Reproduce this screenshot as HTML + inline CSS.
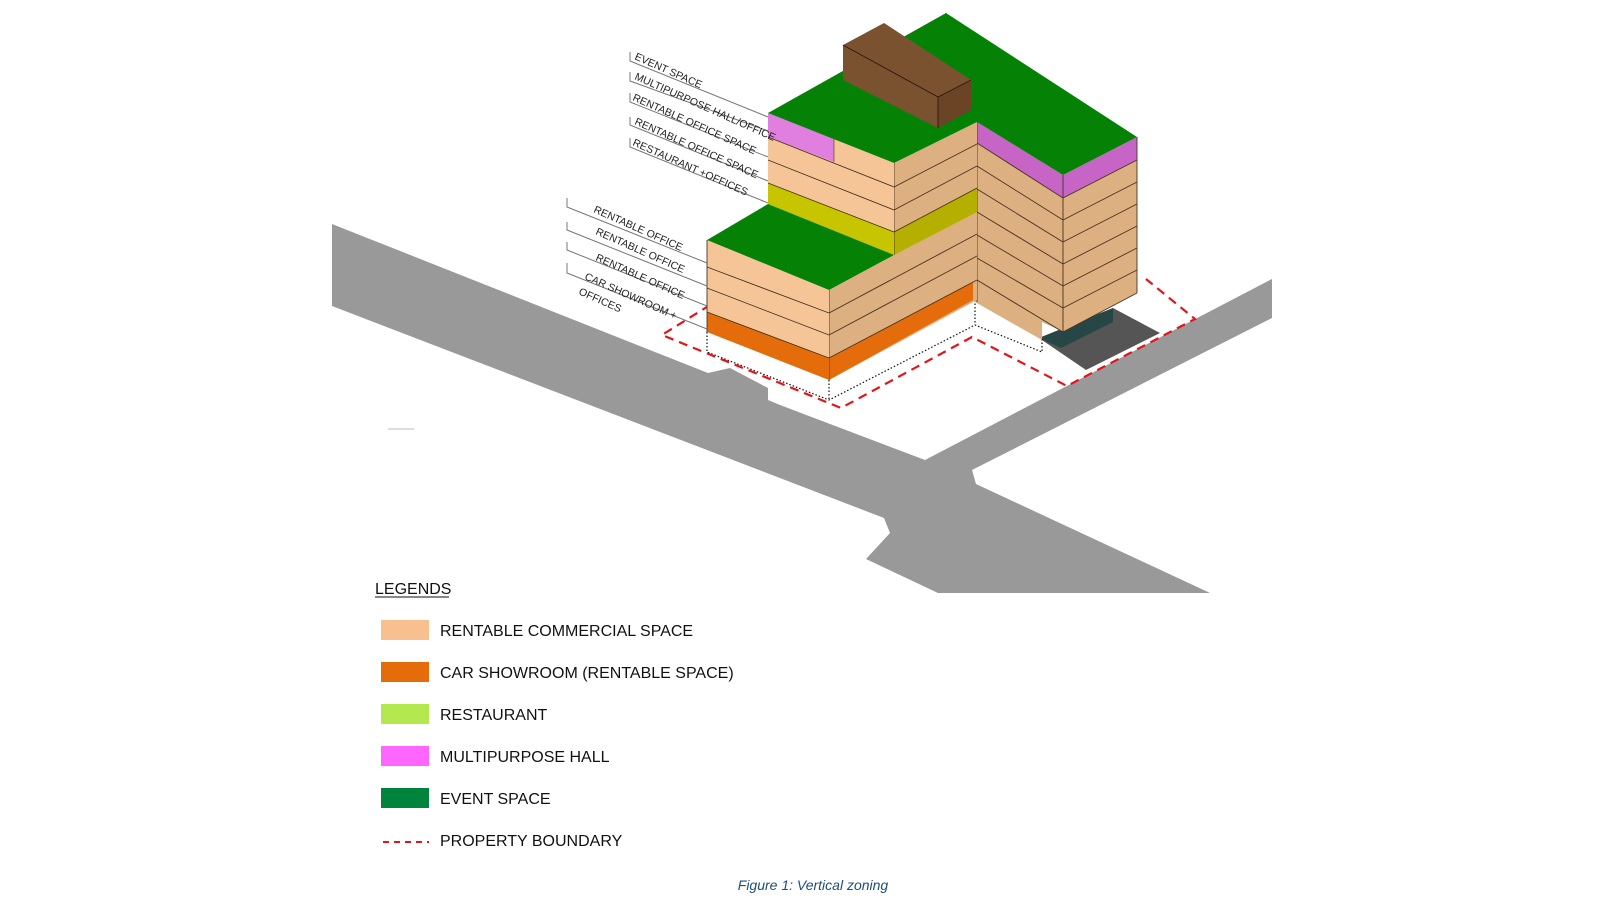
<!DOCTYPE html>
<html><head><meta charset="utf-8"><style>
html,body{margin:0;padding:0;background:#fff;}
svg{display:block}
text{font-family:"Liberation Sans",sans-serif;}
</style></head><body>
<svg width="1600" height="900" viewBox="0 0 1600 900" xmlns="http://www.w3.org/2000/svg">
<polygon fill="#999999" points="332,224 708,373 730,368 768,388 768,400 780,405 925,460 1272,279 1272,318 972,470 976,484 1210,593 938,593 866,559 890,533 884,518 332,306"/>
<line x1="388" y1="429" x2="414" y2="429" stroke="#bbb" stroke-width="1"/>
<polygon fill="#555" points="1039,338 1113,308 1160,333 1086,370"/>
<polygon fill="#274646" points="1039,338 1113,308 1113,322 1061,348"/>
<polyline fill="none" stroke="#111" stroke-width="1.2" stroke-dasharray="1.5,2" points="707,332 707,352 829,400 975,325 1042,352 1042,338"/>
<line x1="829" y1="380" x2="829" y2="400" stroke="#111" stroke-width="1.2" stroke-dasharray="1.5,2"/>
<line x1="975" y1="300" x2="975" y2="325" stroke="#111" stroke-width="1.2" stroke-dasharray="1.5,2"/>
<polyline fill="none" stroke="#e0161b" stroke-width="2.2" stroke-dasharray="9,6" points="710,305 662,335 841,408 972,337 1067,386 1195,319 1146,279"/>
<polygon fill="#dcb080" points="977,122 1063,175 1063,332 1042,322 1042,340 975,302"/>
<polygon fill="#dcb080" points="1063,175 1137,137 1137,293 1063,332"/>
<polygon fill="#c765c7" points="977,122 1063,175 1063,198 977,143"/>
<polygon fill="#c765c7" points="1063,175 1137,137 1137,160 1063,198"/>
<g stroke="#4a3320" stroke-width="0.9" fill="none">
<polyline points="977,143 1063,198 1137,160"/>
<polyline points="977,166 1063,220 1137,182"/>
<polyline points="977,189 1063,242 1137,204"/>
<polyline points="977,212 1063,264 1137,226"/>
<polyline points="977,235 1063,286 1137,248"/>
<polyline points="977,258 1063,308 1137,270"/>
<polyline points="977,280 1063,332 1137,293"/>
<line x1="1063" y1="175" x2="1063" y2="332"/>
<line x1="977" y1="122" x2="977" y2="302"/>
<line x1="1137" y1="137" x2="1137" y2="293"/>
</g>
<polygon fill="#dcb080" points="894,163 977,122 977,300 829,380 829,290 894,255"/>
<polygon fill="#b5b000" points="894,232 977,188 977,212 894,255"/>
<polygon fill="#e46c0a" points="829,358 973,282 973,300 829,380"/>
<g stroke="#4a3320" stroke-width="0.9" fill="none">
<line x1="894" y1="187" x2="977" y2="144"/>
<line x1="894" y1="210" x2="977" y2="166"/>
<line x1="894" y1="232" x2="977" y2="188"/>
<line x1="829" y1="313" x2="977" y2="234"/>
<line x1="829" y1="335" x2="977" y2="256"/>
<line x1="829" y1="358" x2="977" y2="280"/>
<line x1="894" y1="163" x2="894" y2="255"/>
<line x1="829" y1="290" x2="829" y2="380"/>
</g>
<polygon fill="#f5c598" points="768,113 894,163 894,255 768,204"/>
<polygon fill="#e07fe0" points="768,113 834,139 834,162 768,137"/>
<polygon fill="#c7c400" points="768,183 894,232 894,255 768,204"/>
<g stroke="#4a3320" stroke-width="0.9" fill="none">
<line x1="768" y1="137" x2="894" y2="187"/>
<line x1="768" y1="160" x2="894" y2="210"/>
<line x1="768" y1="183" x2="894" y2="232"/>
<line x1="834" y1="139" x2="834" y2="162" stroke-width="0.6"/>
</g>
<polygon fill="#f5c598" points="707,240 829,290 829,380 707,332"/>
<polygon fill="#e46c0a" points="707,312 829,358 829,380 707,332"/>
<g stroke="#4a3320" stroke-width="0.9" fill="none">
<line x1="707" y1="267" x2="829" y2="313"/>
<line x1="707" y1="288" x2="829" y2="335"/>
<line x1="707" y1="312" x2="829" y2="358"/>
<line x1="707" y1="240" x2="707" y2="332"/>
</g>
<polygon fill="#058205" points="707,240 768,204 894,255 829,290"/>
<polygon fill="#058205" points="768,113 946,13 1137,137 1063,175 977,122 894,163"/>
<polygon fill="#7a5230" points="843,45 884,23 971,80 938,97"/>
<polygon fill="#7a5230" points="843,45 938,97 938,128 843,80"/>
<polygon fill="#6b4426" points="938,97 971,80 971,110 938,128"/>
<g stroke="#2a1a0c" stroke-width="0.9" fill="none">
<polyline points="843,45 938,97 971,80"/>
<line x1="938" y1="97" x2="938" y2="128"/>
</g>
<g stroke="#777" stroke-width="1" fill="none">
<polyline points="630,52 630,61 768,117"/>
<polyline points="630,72 630,81 768,131"/>
<polyline points="630,93 630,102 768,157"/>
<polyline points="630,117 630,125 768,181"/>
<polyline points="630,138 630,147 768,203"/>
<polyline points="567,198 567,207 707,263"/>
<polyline points="567,222 567,230 707,286"/>
<polyline points="567,242 567,250 707,306"/>
<polyline points="567,263 567,273 707,329"/>
</g>
<g font-size="10.5" fill="#222">
<text transform="translate(634,59) rotate(24)">EVENT SPACE</text>
<text transform="translate(634,79) rotate(24)">MULTIPURPOSE HALL/OFFICE</text>
<text transform="translate(632,100) rotate(24)">RENTABLE OFFICE SPACE</text>
<text transform="translate(634,124) rotate(24)">RENTABLE OFFICE SPACE</text>
<text transform="translate(632,145) rotate(24)">RESTAURANT +OFFICES</text>
<text transform="translate(593,212) rotate(24)">RENTABLE OFFICE</text>
<text transform="translate(595,234) rotate(24)">RENTABLE OFFICE</text>
<text transform="translate(595,260) rotate(24)">RENTABLE OFFICE</text>
<text transform="translate(584,279) rotate(24)">CAR SHOWROOM +</text>
<text transform="translate(578,294) rotate(24)">OFFICES</text>
</g>
<g font-size="16" fill="#111">
<text x="375" y="594">LEGENDS</text>
<line x1="375" y1="597" x2="449" y2="597" stroke="#111" stroke-width="1"/>
<rect x="381" y="620" width="48" height="20" fill="#f9c08f"/>
<text x="440" y="636">RENTABLE COMMERCIAL SPACE</text>
<rect x="381" y="662" width="48" height="20" fill="#e46c0a"/>
<text x="440" y="678">CAR SHOWROOM (RENTABLE SPACE)</text>
<rect x="381" y="704" width="48" height="20" fill="#b3e84f"/>
<text x="440" y="720">RESTAURANT</text>
<rect x="381" y="746" width="48" height="20" fill="#ff66ff"/>
<text x="440" y="762">MULTIPURPOSE HALL</text>
<rect x="381" y="788" width="48" height="20" fill="#00843d"/>
<text x="440" y="804">EVENT SPACE</text>
<line x1="383" y1="842" x2="429" y2="842" stroke="#e0161b" stroke-width="2" stroke-dasharray="6,5"/>
<text x="440" y="846">PROPERTY BOUNDARY</text>
</g>
<text x="813" y="890" font-size="14" font-style="italic" fill="#1f4e79" text-anchor="middle">Figure 1: Vertical zoning</text>
</svg>
</body></html>
